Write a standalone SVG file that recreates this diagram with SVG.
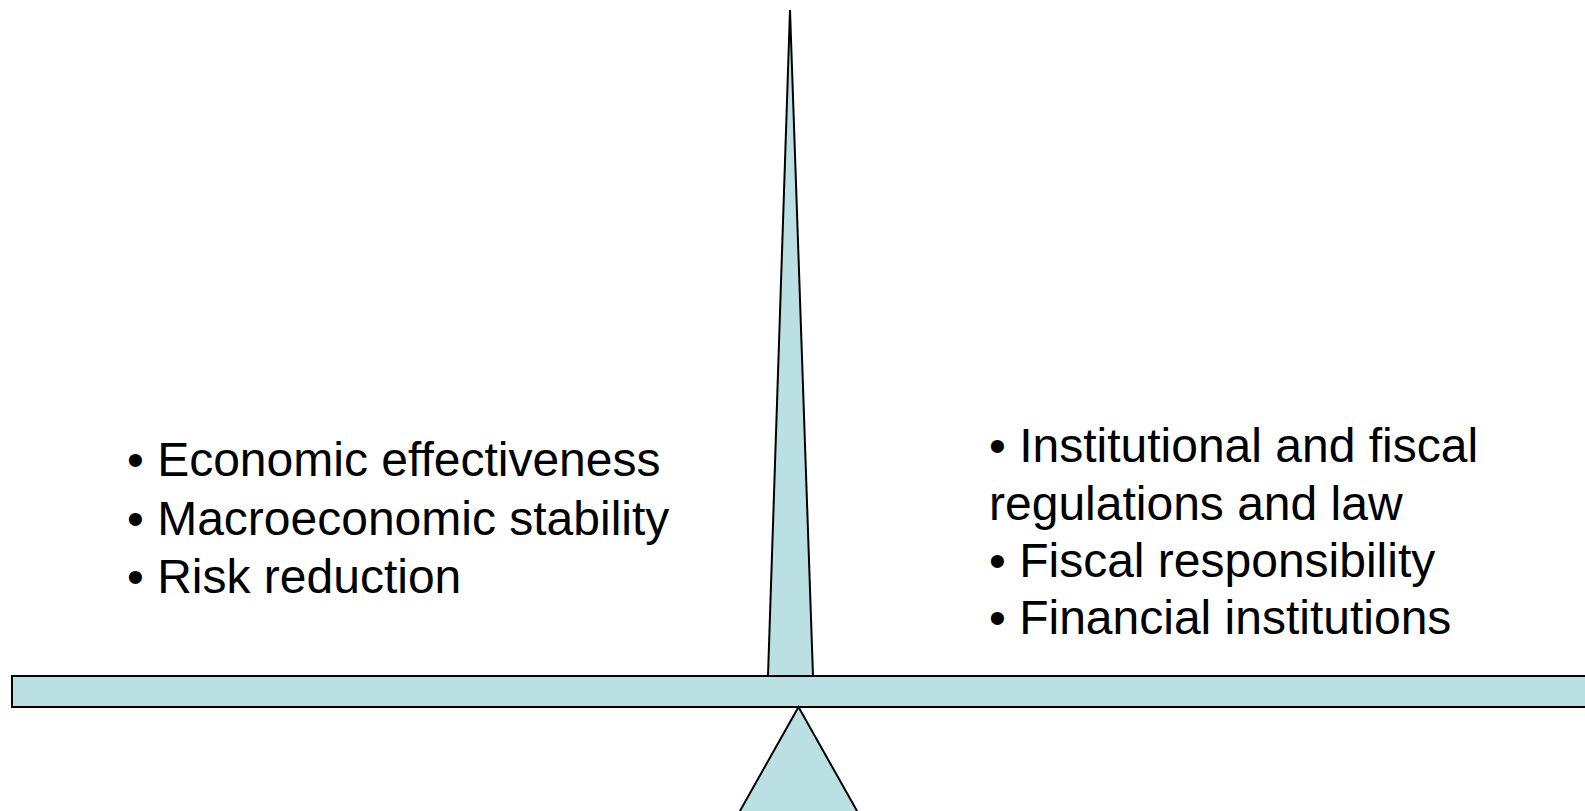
<svg xmlns="http://www.w3.org/2000/svg" width="1585" height="811" viewBox="0 0 1585 811">
<style>
.shape{fill:#BBE0E3;stroke:#000;stroke-width:2;stroke-linejoin:miter}
.txt{font-family:"Liberation Sans",Arial,sans-serif;font-size:48px;fill:#000}
</style>
<rect width="1585" height="811" fill="#fff"/>
<g id="spike"><polygon class="shape" points="790,10 768,676 813,676"/></g>
<g id="beam"><rect class="shape" x="12" y="676" width="1590" height="31"/></g>
<g id="fulcrum"><polygon class="shape" points="798.5,707 727,834 870,834"/></g>
<g id="left-list">
<text class="txt" x="127" y="476">• Economic effectiveness</text>
<text class="txt" x="127" y="535">• Macroeconomic stability</text>
<text class="txt" x="127" y="593">• Risk reduction</text>
</g>
<g id="right-list">
<text class="txt" x="989" y="462">• Institutional and fiscal</text>
<text class="txt" x="989" y="520">regulations and law</text>
<text class="txt" x="989" y="577">• Fiscal responsibility</text>
<text class="txt" x="989" y="634">• Financial institutions</text>
</g>
<g id="connectors"></g>
</svg>
